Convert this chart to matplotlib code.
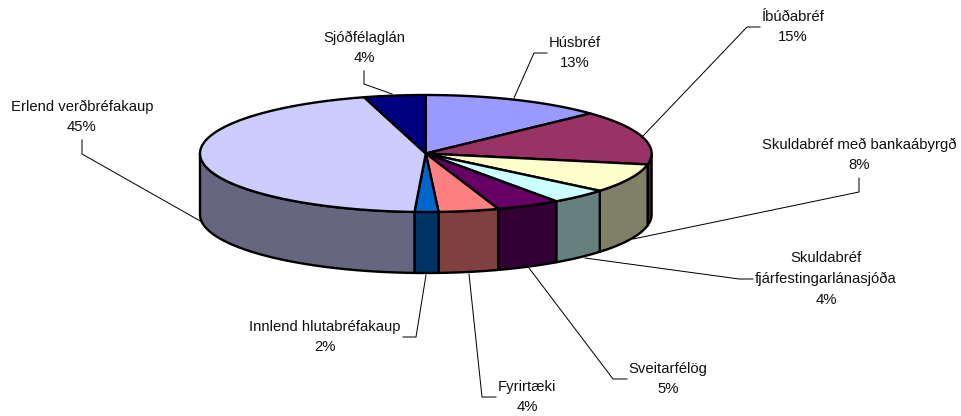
import numpy as np
import matplotlib
matplotlib.use("Agg")
import matplotlib.pyplot as plt

plt.rcParams['font.family'] = ['Liberation Sans', 'DejaVu Sans']

# share of each slice, clockwise from the top of the pie
names = ["Húsbréf", "Íbúðabréf", "Skuldabréf með bankaábyrgð",
         "Skuldabréf\nfjárfestingarlánasjóða", "Sveitarfélög", "Fyrirtæki",
         "Innlend hlutabréfakaup", "Erlend verðbréfakaup", "Sjóðfélaglán"]
shares = [13.0, 15.0, 8.0, 4.2, 4.6, 4.3, 1.7, 44.8, 4.4]
colors = ["#9999FF", "#993366", "#FFFFCC", "#CCFFFF", "#660066",
          "#FF8080", "#0066CC", "#CCCCFF", "#000080"]

# pie geometry in pixels
cx, cy = 425.8, 153.5
rx, ry = 225.8, 58.5
depth = 61

label_pos = [(575, 53), (793, 27), (859, 155), (826, 279), (668, 379),
             (527, 397), (325, 337), (82, 117), (364, 48)]
leaders = [
    [(514, 98), (534, 53), (547, 53)],
    [(643, 136), (747, 27), (760, 27)],
    [(859, 178), (859, 192), (633, 239)],
    [(585, 258), (739, 279), (753, 279)],
    [(529, 268), (613, 379), (627, 379)],
    [(469, 274), (482, 397), (496, 397)],
    [(426, 275), (416, 337), (403, 337)],
    [(82, 140), (82, 154), (202, 222)],
    [(364, 71), (364, 84), (392, 94)],
]


def arc(a0, a1, dy=0):
    t = np.radians(np.linspace(a0, a1, 120))
    return cx + rx*np.sin(t), cy - ry*np.cos(t) + dy


def darker(c):
    return tuple(v*0.5 for v in matplotlib.colors.to_rgb(c))


fig = plt.figure(figsize=(9.62, 4.16), dpi=100)
ax = fig.add_axes([0, 0, 1, 1])
ax.set_xlim(0, 962)
ax.set_ylim(416, 0)
ax.axis('off')

edges = np.cumsum([0] + shares) / sum(shares) * 360

# leader lines go under the pie
for pts in leaders:
    xs, ys = zip(*pts)
    ax.plot(xs, ys, color='black', lw=0.72, zorder=1)

# front wall, only the part between 90 and 270 degrees shows
for i, c in enumerate(colors):
    a0, a1 = max(edges[i], 90), min(edges[i+1], 270)
    if a1 <= a0:
        continue
    x1, y1 = arc(a0, a1)
    x2, y2 = arc(a1, a0, depth)
    ax.fill(np.r_[x1, x2], np.r_[y1, y2], facecolor=darker(c), edgecolor='black',
            lw=1.7, joinstyle='round', zorder=2)

# top face
for i, c in enumerate(colors):
    x1, y1 = arc(edges[i], edges[i+1])
    ax.fill(np.r_[cx, x1], np.r_[cy, y1], facecolor=c, edgecolor='black',
            lw=1.7, joinstyle='round', zorder=3)

for name, share, (x, y) in zip(names, shares, label_pos):
    ax.text(x, y, f"{name}\n{round(share)}%", ha='center', va='center',
            fontsize=10.75, linespacing=1.6, color='#111111', zorder=4)

fig.savefig("out.png", dpi=100)
